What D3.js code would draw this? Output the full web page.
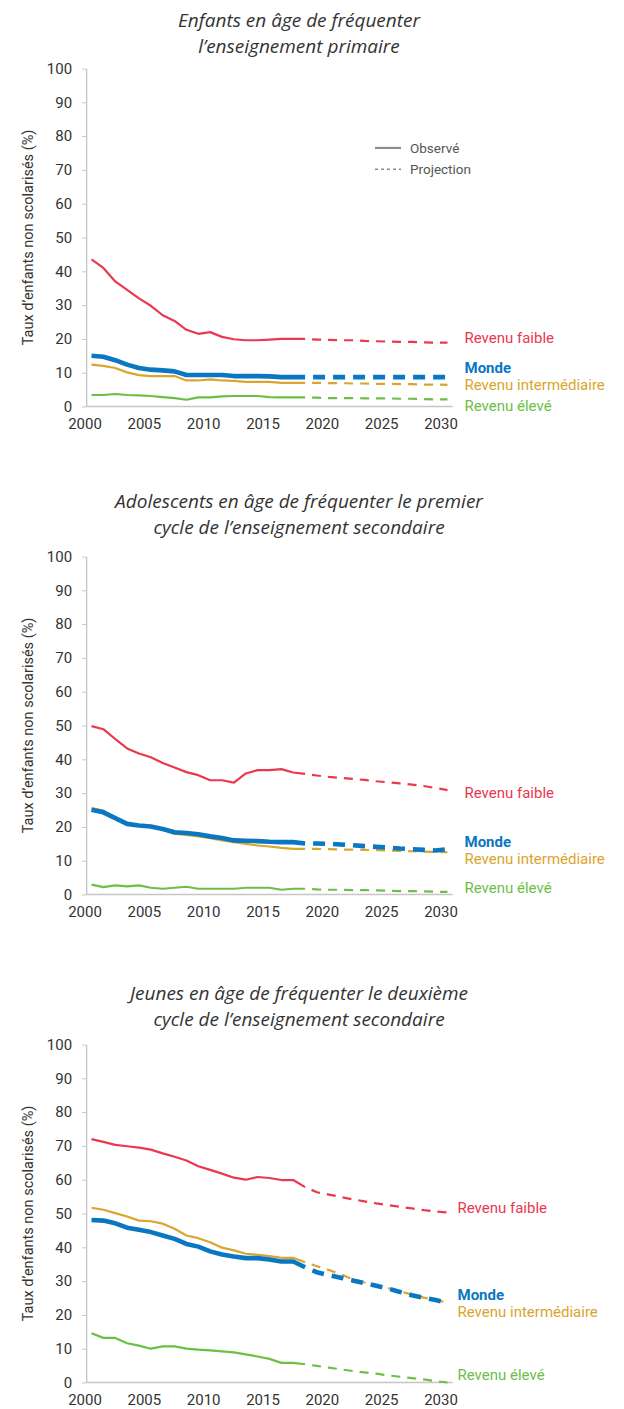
<!DOCTYPE html>
<html>
<head>
<meta charset="utf-8">
<script src="https://cdn.jsdelivr.net/npm/d3@7"></script>
<style>
  body { margin: 0; background: #fff; }
  svg { display: block; }
</style>
</head>
<body>
<div id="chart"></div>
<script>
// Years on the x axis, observed up to 2018 then projections
const years = [2000, 2001, 2002, 2003, 2004, 2005, 2006, 2007, 2008, 2009, 2010,
               2011, 2012, 2013, 2014, 2015, 2016, 2017, 2018, 2019, 2020,
               2021, 2022, 2023, 2024, 2025, 2026, 2027, 2028, 2029, 2030];
const lastObserved = 2018;
const xTickYears = [2000, 2005, 2010, 2015, 2020, 2025, 2030];
const yTicks = [0, 10, 20, 30, 40, 50, 60, 70, 80, 90, 100];

const panelTitles = [
    ["Enfants en âge de fréquenter", "l’enseignement primaire"],
    ["Adolescents en âge de fréquenter le premier", "cycle de l’enseignement secondaire"],
    ["Jeunes en âge de fréquenter le deuxième", "cycle de l’enseignement secondaire"]
];
const seriesNames = ["Revenu élevé", "Revenu intermédiaire", "Revenu faible", "Monde"];

// Primary school age
const primaryHigh   = [3.4, 3.4, 3.7, 3.4, 3.3, 3.1, 2.8, 2.5, 2.0, 2.7, 2.7, 3.0, 3.1, 3.1, 3.1, 2.8, 2.7, 2.7, 2.7,
                       2.6, 2.5, 2.5, 2.5, 2.4, 2.4, 2.4, 2.3, 2.3, 2.2, 2.1, 2.1];
const primaryMiddle = [12.4, 12.0, 11.4, 10.1, 9.3, 9.0, 9.0, 9.0, 7.7, 7.7, 8.0, 7.7, 7.6, 7.3, 7.3, 7.3, 7.0, 7.0, 7.0,
                       7.0, 6.9, 6.9, 6.8, 6.8, 6.7, 6.7, 6.6, 6.6, 6.5, 6.5, 6.4];
const primaryLow    = [43.5, 41.0, 37.0, 34.5, 32.0, 29.8, 27.0, 25.3, 22.7, 21.5, 22.0, 20.6, 19.9, 19.6, 19.6, 19.8, 20.0, 20.0, 20.0,
                       19.8, 19.7, 19.6, 19.6, 19.4, 19.3, 19.2, 19.1, 19.1, 19.0, 18.9, 18.9];
const primaryWorld  = [15.0, 14.7, 13.7, 12.4, 11.4, 10.9, 10.7, 10.4, 9.3, 9.3, 9.3, 9.3, 9.0, 9.0, 9.0, 8.9, 8.7, 8.7, 8.7,
                       8.7, 8.7, 8.7, 8.7, 8.7, 8.7, 8.7, 8.7, 8.7, 8.7, 8.7, 8.7];

// Lower secondary school age
const lowerHigh   = [2.9, 2.2, 2.7, 2.4, 2.7, 2.0, 1.7, 2.0, 2.3, 1.7, 1.7, 1.7, 1.7, 2.0, 2.0, 2.0, 1.4, 1.7, 1.7,
                     1.5, 1.4, 1.4, 1.3, 1.3, 1.2, 1.1, 1.0, 1.0, 0.9, 0.8, 0.8];
const lowerMiddle = [25.6, 24.8, 22.8, 20.9, 20.4, 20.1, 19.2, 17.9, 17.6, 17.2, 16.7, 16.0, 15.5, 15.0, 14.5, 14.2, 13.8, 13.5, 13.5,
                     13.5, 13.4, 13.3, 13.3, 13.2, 13.1, 13.0, 12.9, 12.8, 12.7, 12.6, 12.5];
const lowerLow    = [49.8, 48.9, 46.0, 43.2, 41.7, 40.6, 38.9, 37.6, 36.2, 35.3, 33.8, 33.8, 33.1, 35.8, 36.8, 36.8, 37.1, 36.1, 35.7,
                     35.2, 34.8, 34.5, 34.2, 33.9, 33.5, 33.2, 32.9, 32.5, 32.1, 31.5, 30.9];
const lowerWorld  = [25.1, 24.3, 22.6, 20.9, 20.4, 20.1, 19.4, 18.4, 18.2, 17.8, 17.2, 16.7, 16.0, 15.9, 15.8, 15.6, 15.5, 15.5, 15.1,
                     15.1, 15.0, 14.8, 14.6, 14.3, 14.1, 13.9, 13.6, 13.4, 13.2, 13.0, 13.4];

// Upper secondary school age
const upperHigh   = [14.6, 13.2, 13.2, 11.6, 10.9, 10.0, 10.7, 10.7, 10.0, 9.7, 9.5, 9.2, 8.9, 8.3, 7.7, 7.0, 5.8, 5.8, 5.4,
                     4.9, 4.4, 3.9, 3.4, 3.0, 2.6, 2.1, 1.7, 1.3, 0.9, 0.4, 0.0];
const upperMiddle = [51.7, 51.1, 50.1, 49.1, 47.9, 47.7, 47.0, 45.5, 43.5, 42.7, 41.5, 39.9, 39.1, 38.1, 37.8, 37.4, 36.9, 36.9, 35.6,
                     34.4, 33.3, 32.0, 30.6, 29.6, 28.7, 27.9, 27.0, 26.0, 25.1, 24.4, 23.7];
const upperLow    = [72.0, 71.2, 70.3, 69.9, 69.5, 68.9, 67.8, 66.8, 65.7, 64.0, 62.9, 61.8, 60.6, 60.0, 60.8, 60.5, 59.9, 59.9, 57.8,
                     56.3, 55.6, 54.9, 54.2, 53.6, 53.0, 52.5, 52.0, 51.5, 51.0, 50.6, 50.3];
const upperWorld  = [48.1, 47.9, 47.1, 45.8, 45.2, 44.5, 43.5, 42.5, 41.0, 40.2, 38.8, 37.9, 37.3, 36.8, 36.8, 36.4, 35.8, 35.8, 34.1,
                     32.6, 31.8, 31.0, 30.2, 29.4, 28.6, 27.8, 26.8, 25.8, 25.1, 24.4, 23.6];

const panelSeries = [
    [primaryHigh, primaryMiddle, primaryLow, primaryWorld],
    [lowerHigh, lowerMiddle, lowerLow, lowerWorld],
    [upperHigh, upperMiddle, upperLow, upperWorld]
];

// Where the end labels sit (value units), placed by hand to avoid overlap
const endLabelValues = [
    [0.3, 6.4, 20.3, 11.4],
    [2.0, 10.6, 30.0, 15.6],
    [2.4, 21.0, 51.8, 26.0]
];

// Layout
const colors = ["#6cbf45", "#daa52e", "#e9384f", "#0a77c2"];
const widths = [2.2, 2.2, 2.2, 4.6];
const dashes = ["9,7", "9,7", "9,7", "12,8"];
const panelTops = [68.5, 556.5, 1044.5];
const titleOffsets = [-42, -49, -45];
const plotHeight = 338;
const labelShift = [0, 0, -7];
const tickFont = "Roboto, 'DejaVu Sans', sans-serif";

const svg = d3.select("#chart")
    .append("svg")
    .attr("width", 624)
    .attr("height", 1409);

const x = d3.scaleLinear()
    .domain([2000, 2030])
    .range([91.5, 447.5]);

panelSeries.forEach((series, p) =>
{
    const top = panelTops[p];
    const y = d3.scaleLinear()
        .domain([0, 100])
        .range([top + plotHeight, top]);

    const g = svg.append("g");

    // Title (two lines, italic)
    g.append("text")
        .attr("x", 299)
        .attr("y", top + titleOffsets[p])
        .attr("text-anchor", "middle")
        .style("font-family", "'Open Sans', Lato, sans-serif")
        .style("font-style", "italic")
        .style("font-size", "19px")
        .style("fill", "#333")
        .selectAll("tspan")
        .data(panelTitles[p])
        .enter()
        .append("tspan")
        .attr("x", 299)
        .attr("dy", (d, i) => i === 0 ? 0 : 26.5)
        .text(d => d);

    // Y axis
    const yAxis = g.append("g")
        .attr("transform", `translate(${x(1999.55)},0)`)
        .call(d3.axisLeft(y).tickValues(yTicks).tickSize(4).tickSizeOuter(0).tickPadding(10));
    yAxis.select(".domain").attr("stroke", "#c6c6c6").attr("stroke-width", 1.3);
    yAxis.selectAll(".tick line").attr("stroke", "#c6c6c6");
    yAxis.selectAll(".tick text")
        .style("font-family", tickFont)
        .style("font-size", "15px")
        .style("fill", "#333");

    // X axis line spans slightly wider than the data
    g.append("line")
        .attr("x1", x(1999.55))
        .attr("x2", x(2030.45))
        .attr("y1", y(0))
        .attr("y2", y(0))
        .attr("stroke", "#c6c6c6")
        .attr("stroke-width", 1.3);

    const xAxis = g.append("g")
        .attr("transform", `translate(-7,${y(0)})`)
        .call(d3.axisBottom(x).tickValues(xTickYears).tickFormat(d3.format("d")).tickSize(0).tickPadding(12));
    xAxis.select(".domain").remove();
    xAxis.selectAll(".tick text")
        .style("font-family", tickFont)
        .style("font-size", "15px")
        .style("fill", "#333");

    // Y axis title
    g.append("text")
        .attr("transform", `translate(28,${top + plotHeight / 2}) rotate(-90)`)
        .attr("text-anchor", "middle")
        .attr("dy", "0.35em")
        .style("font-family", tickFont)
        .style("font-size", "14.5px")
        .style("fill", "#333")
        .text("Taux d’enfants non scolarisés (%)");

    const line = d3.line()
        .x(d => x(d.year))
        .y(d => y(d.value));

    series.forEach((values, s) =>
    {
        const points = years.map((yr, i) => ({year: yr, value: values[i]}));
        const observed = points.filter(d => d.year <= lastObserved);
        const projected = points.filter(d => d.year >= lastObserved);

        // Observed: solid
        g.append("path")
            .datum(observed)
            .attr("d", line)
            .attr("fill", "none")
            .attr("stroke", colors[s])
            .attr("stroke-width", widths[s])
            .attr("stroke-linejoin", "round");

        // Projection: dashed, starting with a gap
        const dashOn = +dashes[s].split(",")[0];
        g.append("path")
            .datum(projected)
            .attr("d", line)
            .attr("fill", "none")
            .attr("stroke", colors[s])
            .attr("stroke-width", widths[s])
            .attr("stroke-dasharray", dashes[s])
            .attr("stroke-dashoffset", dashOn);

        // End label
        g.append("text")
            .attr("x", x(2030) + 17 + labelShift[p])
            .attr("y", y(endLabelValues[p][s]))
            .attr("dy", "0.35em")
            .style("font-family", tickFont)
            .style("font-size", "15px")
            .style("font-weight", s === 3 ? 700 : 400)
            .style("fill", colors[s])
            .text(seriesNames[s]);
    });

    // Legend only in the first panel
    if (p === 0)
    {
        const legend = g.append("g");
        const legendItems = [
            {label: "Observé", dash: null, yv: 76.5},
            {label: "Projection", dash: "3,3", yv: 70.2}
        ];
        legendItems.forEach(item =>
        {
            legend.append("line")
                .attr("x1", 375)
                .attr("x2", 401)
                .attr("y1", y(item.yv))
                .attr("y2", y(item.yv))
                .attr("stroke", "#8c8c8c")
                .attr("stroke-width", item.dash ? 1.6 : 2.2)
                .attr("stroke-dasharray", item.dash);
            legend.append("text")
                .attr("x", 410)
                .attr("y", y(item.yv))
                .attr("dy", "0.35em")
                .style("font-family", tickFont)
                .style("font-size", "13.5px")
                .style("fill", "#555")
                .text(item.label);
        });
    }
});
</script>
</body>
</html>
